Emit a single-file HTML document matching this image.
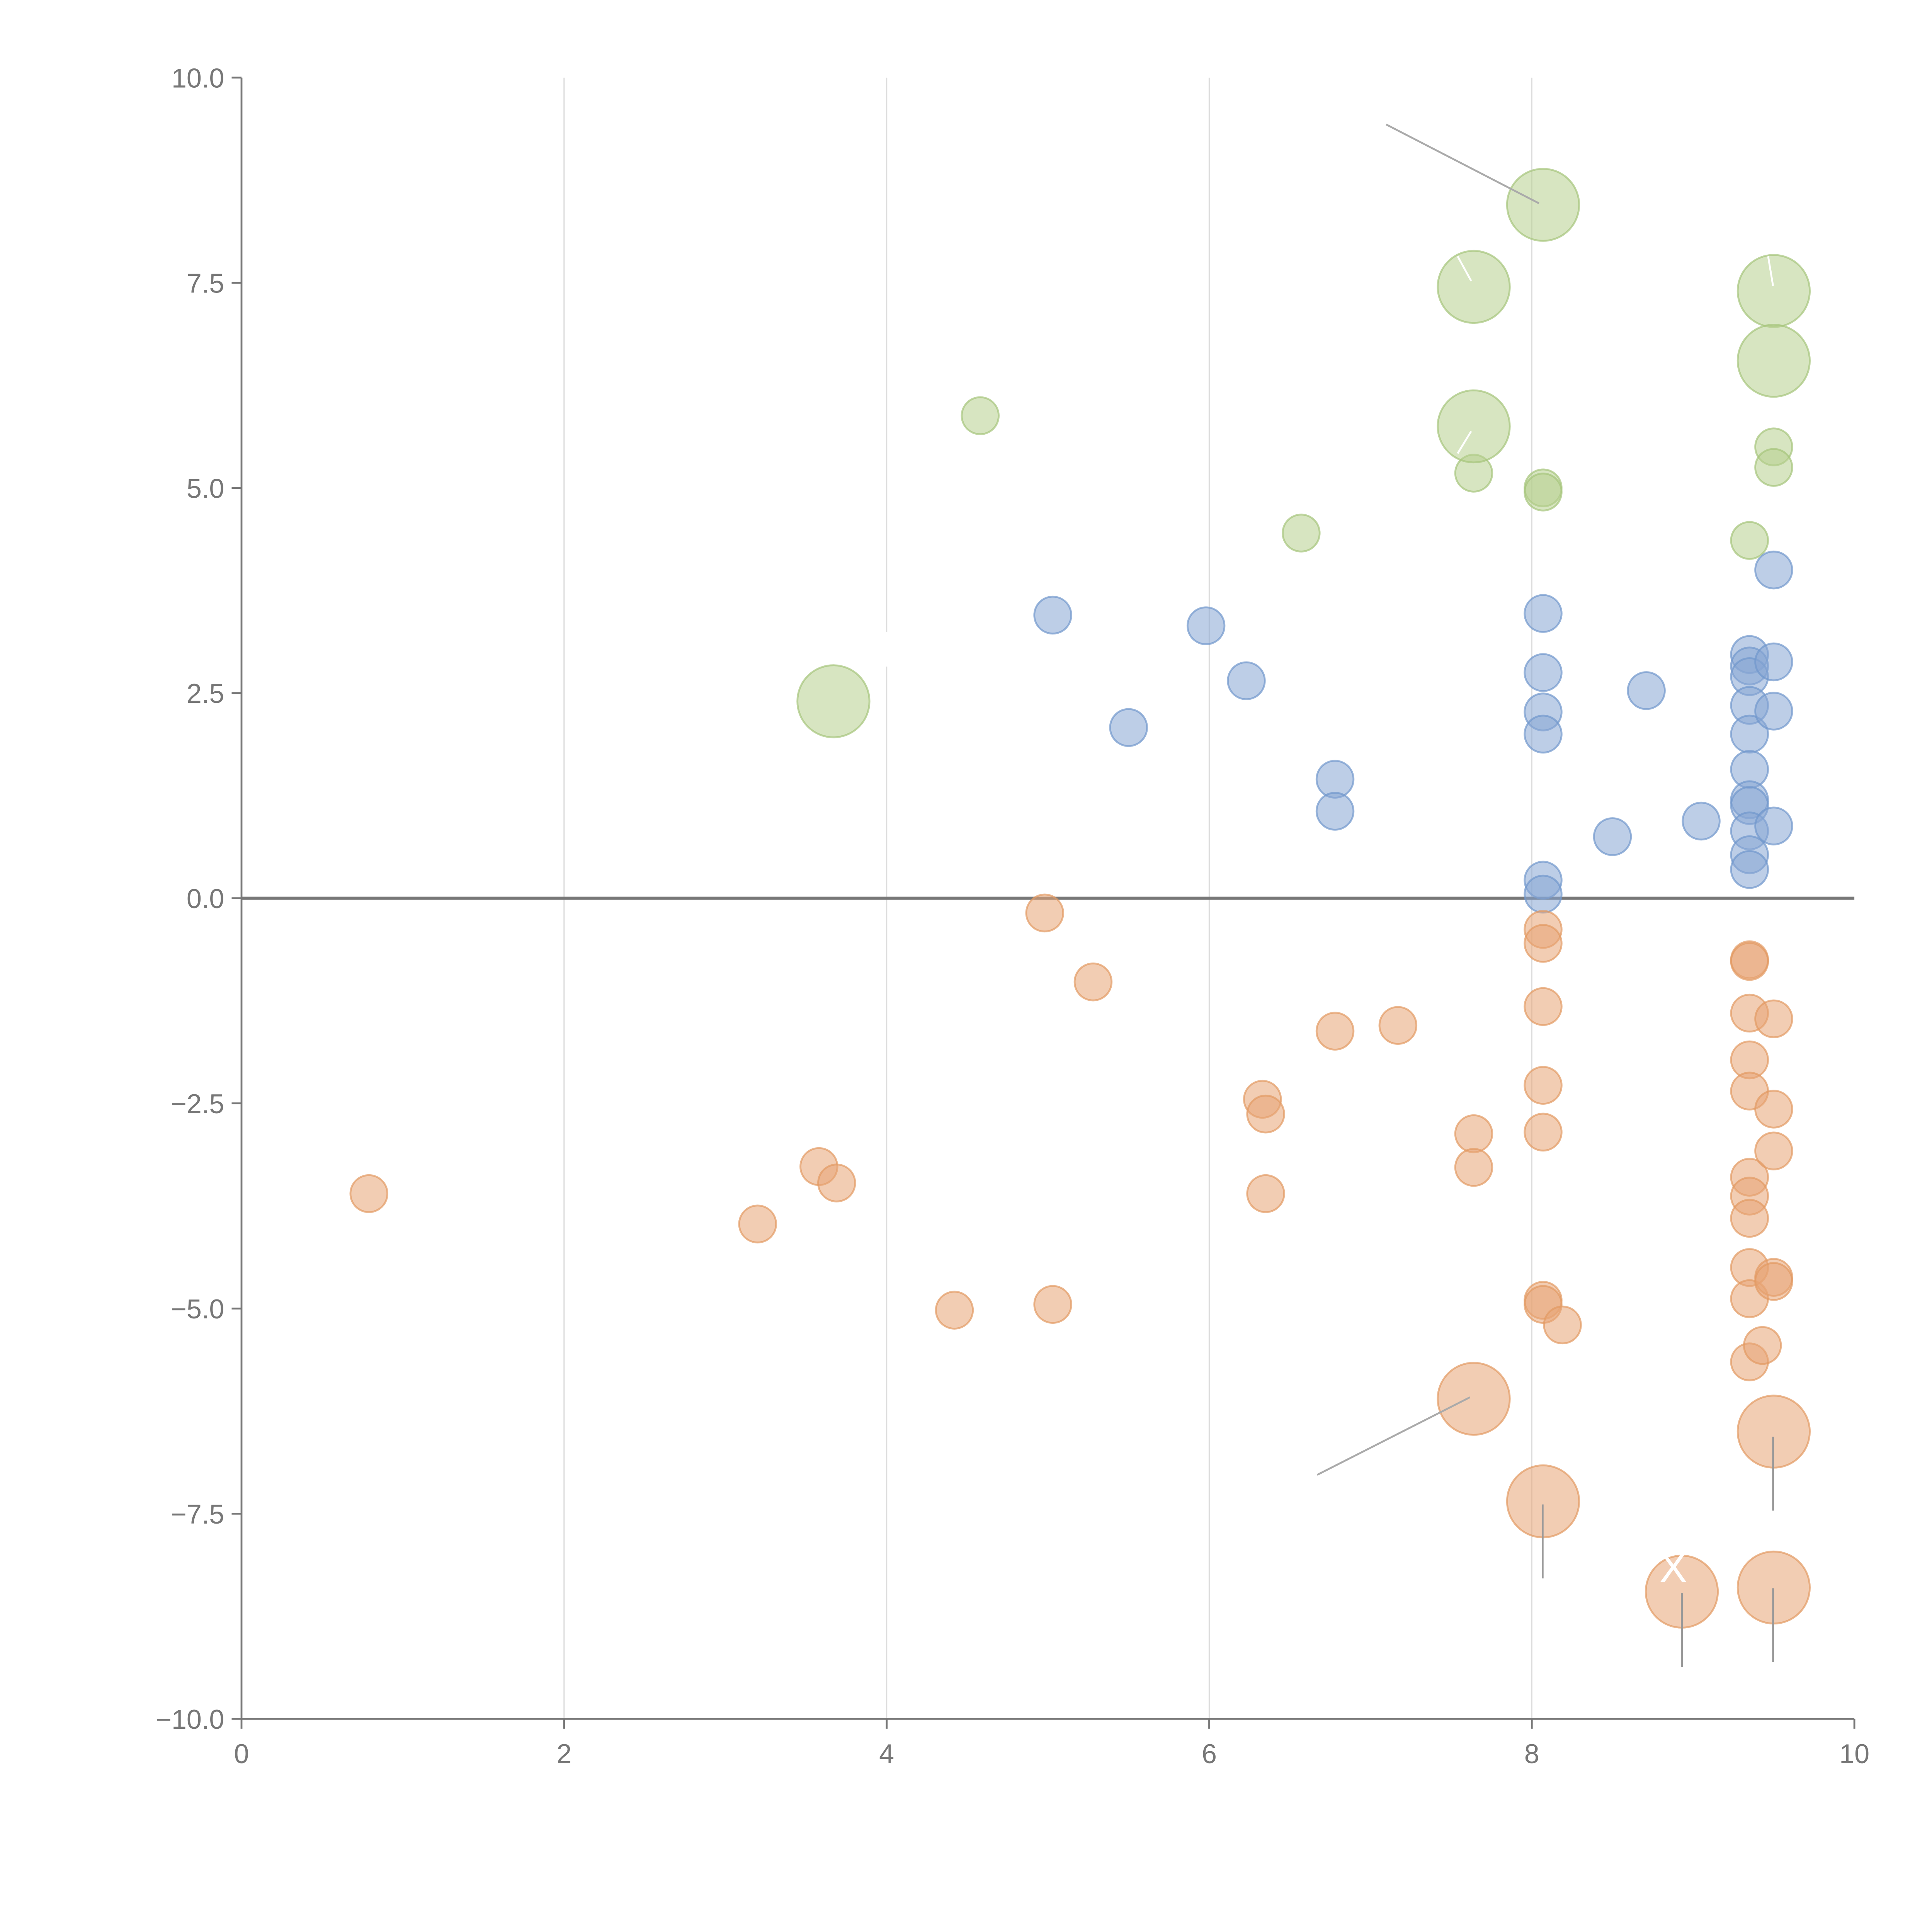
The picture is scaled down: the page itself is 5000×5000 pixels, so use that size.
<!DOCTYPE html>
<html><head><meta charset="utf-8"><style>
html,body{margin:0;padding:0;background:#fff;}
svg{display:block;}
text{font-family:"Liberation Sans",Arial,sans-serif;}
</style></head><body>
<svg id="chart" width="5000" height="5000" viewBox="0 0 1568 1568" xmlns="http://www.w3.org/2000/svg">
<g id="grid"></g>
<g id="axes"></g>
<g id="marks"></g>
<g id="notes"></g>
</svg>
<script>
const xTicks=[0,2,4,6,8,10];
const yTicks=[10,7.5,5,2.5,0,-2.5,-5,-7.5,-10];
const yTickLabels=["10.0","7.5","5.0","2.5","0.0","\u22122.5","\u22125.0","\u22127.5","\u221210.0"];
const blueX=[5.03,5.5,5.98,6.23,6.78,6.78,8.07,8.07,8.07,8.07,8.07,8.07,8.5,8.71,9.05,9.35,9.35,9.35,9.35,9.35,9.35,9.35,9.35,9.35,9.35,9.35,9.5,9.5,9.5,9.5];
const blueY=[3.45,2.08,3.32,2.65,1.45,1.06,3.47,2.75,2.27,2.0,0.22,0.05,0.75,2.53,0.94,2.97,2.83,2.7,2.35,2.0,1.57,1.2,1.13,0.82,0.53,0.35,4.0,2.88,2.28,0.88];
const blueS=blueX.map(()=>1);
const greenX=[4.58,6.57,7.64,8.07,8.07,9.35,9.5,9.5,8.07,7.64,9.5,9.5,7.64,3.67];
const greenY=[5.88,4.45,5.18,5.0,4.95,4.36,5.5,5.25,8.45,7.45,7.4,6.55,5.75,2.4];
const greenS=[1,1,1,1,1,1,1,1,3.8,3.8,3.8,3.8,3.8,3.8];
const orangeX=[0.79,3.2,3.58,3.69,4.42,4.98,5.03,5.28,6.33,6.35,6.35,6.78,7.17,7.64,7.64,8.07,8.07,8.07,8.07,8.07,8.07,8.07,8.19,9.35,9.35,9.35,9.35,9.35,9.35,9.35,9.35,9.35,9.35,9.35,9.43,9.5,9.5,9.5,9.5,9.5,7.64,9.5,8.07,8.93,9.5];
const orangeY=[-3.6,-3.97,-3.27,-3.47,-5.02,-0.18,-4.95,-1.02,-2.45,-2.63,-3.6,-1.62,-1.55,-2.87,-3.28,-0.38,-0.55,-1.32,-2.28,-2.85,-4.9,-4.95,-5.2,-0.75,-0.77,-1.4,-1.97,-2.35,-3.4,-3.63,-3.9,-4.5,-4.88,-5.65,-5.45,-1.47,-2.57,-3.08,-4.62,-4.67,-6.1,-6.5,-7.35,-8.45,-8.4];
const orangeS=[1,1,1,1,1,1,1,1,1,1,1,1,1,1,1,1,1,1,1,1,1,1,1,1,1,1,1,1,1,1,1,1,1,1,1,1,1,1,1,1,3.8,3.8,3.8,3.8,3.8];

const X0=196,X1=1505,Y0=1395,Y1=63;
const sx=v=>X0+(v-0)/(10-0)*(X1-X0);
const sy=v=>Y0-(v+10)/20*(Y0-Y1);
const sr=s=>15*Math.sqrt(s);
const NS="http://www.w3.org/2000/svg";
function mk(tag,attrs,parent){const e=document.createElementNS(NS,tag);for(const k in attrs)e.setAttribute(k,attrs[k]);parent.appendChild(e);return e;}
const grid=document.getElementById('grid'),axes=document.getElementById('axes'),marks=document.getElementById('marks'),notes=document.getElementById('notes');

xTicks.forEach(t=>{
  if(t>0&&t<10){const l=mk('line',{x1:sx(t),x2:sx(t),y1:Y1,y2:Y0,stroke:'#dddddd','stroke-width':1},grid);
  
  }
  const tk=mk('line',{x1:sx(t),x2:sx(t),y1:Y0,y2:Y0+8,stroke:'#777','stroke-width':1.5},axes);
  
  
  const tx=mk('text',{x:sx(t),y:Y0+36,'text-anchor':'middle','font-size':22,fill:'#777'},axes);
  tx.textContent=String(t);
  
  
});
const gap=mk('rect',{x:sx(4)-3,y:513,width:6,height:28,fill:'#fff'},grid);


yTicks.forEach((t,i)=>{
  const tk=mk('line',{x1:X0-8,x2:X0,y1:sy(t),y2:sy(t),stroke:'#777','stroke-width':1.5},axes);
  
  
  const tx=mk('text',{x:X0-14,y:sy(t)+8,'text-anchor':'end','font-size':22,fill:'#777'},axes);
  tx.textContent=yTickLabels[i];
  
  
});
const ya=mk('line',{x1:X0,x2:X0,y1:Y1,y2:Y0,stroke:'#777','stroke-width':1.5},axes);


const xa=mk('line',{x1:X0,x2:X1,y1:Y0,y2:Y0,stroke:'#777','stroke-width':1.5},axes);


const zl=mk('line',{x1:X0,x2:X1,y1:sy(0),y2:sy(0),stroke:'#777','stroke-width':2.5},axes);



function series(xs,ys,ss,fill,stroke,name){
  xs.forEach((v,i)=>{
    const c=mk('circle',{cx:sx(v),cy:sy(ys[i]),r:sr(ss[i]),fill:fill,'fill-opacity':0.55,stroke:stroke,'stroke-opacity':0.7,'stroke-width':1.5},marks);
    
    
  });
}
series(greenX,greenY,greenS,'#b7d08e','#a5c47a','green-bubble');
series(blueX,blueY,blueS,'#86a5d3','#7197cc','blue-bubble');
series(orangeX,orangeY,orangeS,'#e8a474','#e39a62','orange-bubble');

[[1125,101,1249,165,'#aaa'],[1069,1197,1193,1134,'#aaa'],[1439,1166,1439,1226,'#999'],[1252,1221,1252,1281,'#999'],[1365,1293,1365,1353,'#999'],[1439,1289,1439,1349,'#999'],[1183,208,1194,228,'#fff'],[1435,208,1439,232,'#fff'],[1183,368,1194,350,'#fff']].forEach(a=>{
  const l=mk('line',{x1:a[0],y1:a[1],x2:a[2],y2:a[3],stroke:a[4],'stroke-width':1.5},notes);
  
  
});
const xt=mk('text',{x:1358,y:1284,'text-anchor':'middle','font-size':34,fill:'#fff'},notes);
xt.textContent='X';


</script>
</body></html>
